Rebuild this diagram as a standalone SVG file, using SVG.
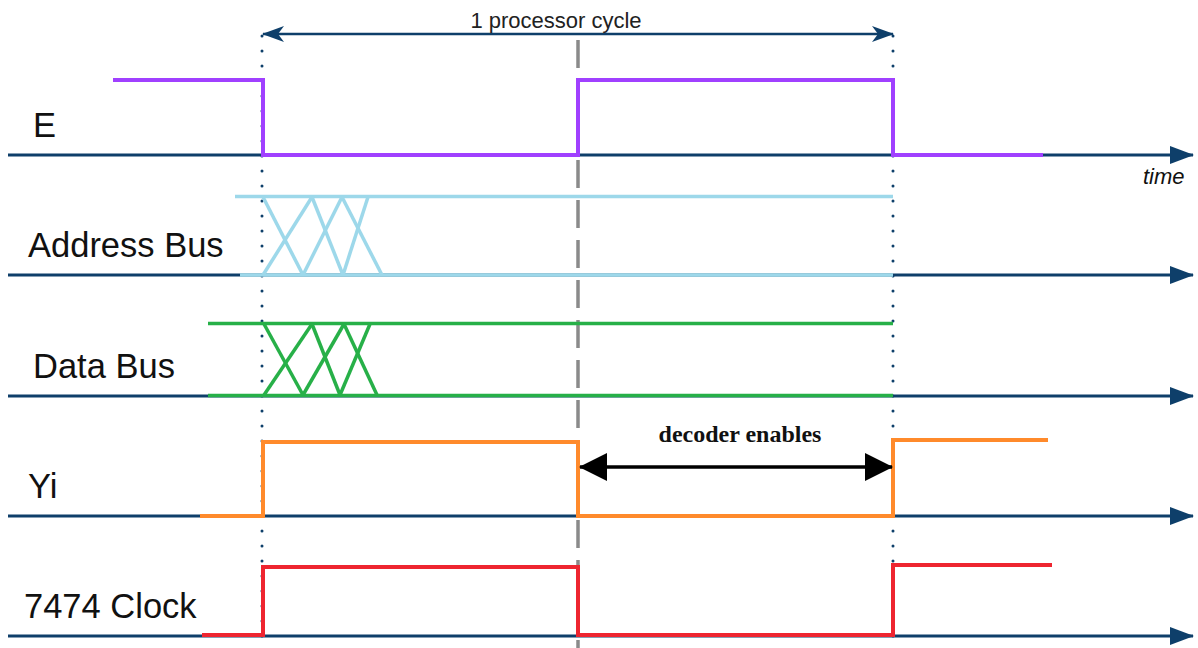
<svg xmlns="http://www.w3.org/2000/svg" width="1198" height="648" viewBox="0 0 1198 648">
<style>
.lbl{font-family:"Liberation Sans",Arial,sans-serif;font-size:34.5px;fill:#111}
.axis{stroke:#0e3f6a;stroke-width:3;fill:none}
.sig{fill:none;stroke-width:4;stroke-linejoin:miter;stroke-linecap:butt}
.dot{stroke:#0e3f6a;stroke-width:3;stroke-linecap:round;stroke-dasharray:0 15;fill:none}
</style>
<defs>
<marker id="ax" viewBox="0 0 24 18" refX="23" refY="9" markerWidth="24" markerHeight="18" markerUnits="userSpaceOnUse" orient="auto">
<path d="M0,0 L24,9 L0,18 Z" fill="#0e3f6a"/>
</marker>
<marker id="cyc" viewBox="0 0 22 18" refX="21" refY="9" markerWidth="22" markerHeight="18" markerUnits="userSpaceOnUse" orient="auto-start-reverse">
<path d="M0,1 L22,9 L0,17 L6,9 Z" fill="#0e3f6a"/>
</marker>
<marker id="dec" viewBox="0 0 28 28" refX="27" refY="14" markerWidth="28" markerHeight="28" markerUnits="userSpaceOnUse" orient="auto-start-reverse">
<path d="M0,0 L28,14 L0,28 Z" fill="#000"/>
</marker>
</defs>

<g id="guides">
<line class="dot" x1="262" y1="36" x2="262" y2="648"/>
<line class="dot" x1="893" y1="36" x2="893" y2="648"/>
<line x1="578" y1="40" x2="578" y2="648" stroke="#8a8a8a" stroke-width="3.5" stroke-dasharray="28 12"/>
</g>

<g id="signal-E">
<text class="lbl" x="33" y="137">E</text>
<line class="axis" x1="8" y1="155" x2="1193" y2="155" marker-end="url(#ax)"/>
<polyline class="sig" stroke="#a040ff" points="113,80 263,80 263,155 578,155 578,80 893,80 893,155 1043,155"/>
<text x="1143" y="184" font-family="Liberation Sans,Arial,sans-serif" font-style="italic" font-size="22" fill="#111">time</text>
</g>

<g id="signal-address-bus">
<text class="lbl" x="28" y="257">Address Bus</text>
<line class="axis" x1="8" y1="275" x2="1193" y2="275" marker-end="url(#ax)"/>
<g stroke="#9dd8ea" stroke-width="3.5" fill="none">
<line x1="235" y1="196.5" x2="893" y2="196.5"/>
<line x1="240" y1="275" x2="893" y2="275"/>
<line x1="263" y1="197" x2="303" y2="275"/>
<line x1="312" y1="197" x2="263" y2="275"/>
<line x1="312" y1="197" x2="343" y2="275"/>
<line x1="342" y1="197" x2="303" y2="275"/>
<line x1="342" y1="197" x2="382" y2="275"/>
<line x1="368" y1="197" x2="343" y2="275"/>
</g>
</g>

<g id="signal-data-bus">
<text class="lbl" x="33" y="378">Data Bus</text>
<line class="axis" x1="8" y1="396" x2="1193" y2="396" marker-end="url(#ax)"/>
<g stroke="#27b048" stroke-width="3.5" fill="none">
<line x1="208" y1="323.5" x2="893" y2="323.5"/>
<line x1="208" y1="395.5" x2="893" y2="395.5"/>
<line x1="264" y1="324" x2="303" y2="395"/>
<line x1="312" y1="324" x2="264" y2="395"/>
<line x1="312" y1="324" x2="340" y2="395"/>
<line x1="344" y1="324" x2="303" y2="395"/>
<line x1="344" y1="324" x2="377" y2="395"/>
<line x1="370" y1="324" x2="340" y2="395"/>
</g>
</g>

<g id="signal-yi">
<text class="lbl" x="28" y="498">Yi</text>
<line class="axis" x1="8" y1="516" x2="1193" y2="516" marker-end="url(#ax)"/>
<polyline class="sig" stroke="#ff8a2b" points="200,516 263,516 263,442 578,442 578,516 893,516 893,440 1048,440"/>
</g>

<g id="signal-7474-clock">
<text class="lbl" x="24" y="618">7474 Clock</text>
<line class="axis" x1="8" y1="636" x2="1193" y2="636" marker-end="url(#ax)"/>
<polyline class="sig" stroke="#ee2530" points="202,635 263,635 263,567 578,567 578,635 893,635 893,565 1052,565"/>
</g>

<g id="connectors">
<line x1="263" y1="34" x2="893" y2="34" stroke="#0e3f6a" stroke-width="2.5" marker-start="url(#cyc)" marker-end="url(#cyc)"/>
<text x="556" y="28" text-anchor="middle" font-family="Liberation Sans,Arial,sans-serif" font-size="22" fill="#222">1 processor cycle</text>
<line x1="580" y1="467" x2="892" y2="467" stroke="#000" stroke-width="3.5" marker-start="url(#dec)" marker-end="url(#dec)"/>
<text x="740" y="442" text-anchor="middle" font-family="Liberation Serif,Times New Roman,serif" font-weight="bold" font-size="24" fill="#111">decoder enables</text>
</g>
</svg>
